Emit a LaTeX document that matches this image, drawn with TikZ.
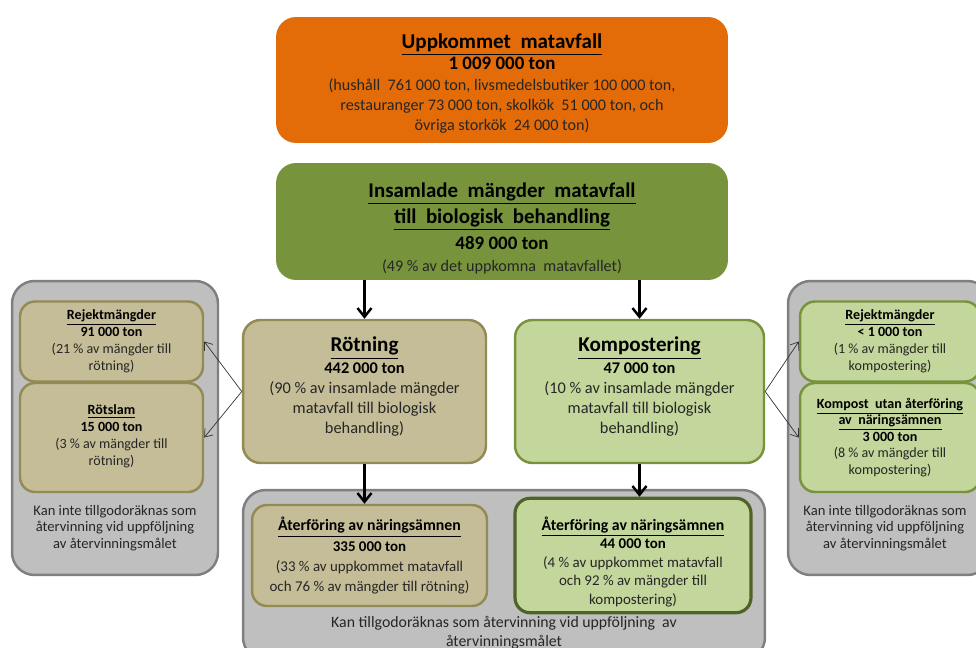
\documentclass[tikz,border=0pt]{standalone}
\usepackage{fontspec}
\setmainfont{Carlito}
\usepackage{tikz}
\usetikzlibrary{positioning,arrows.meta}
\definecolor{orangefill}{HTML}{E36C09}
\definecolor{greenfill}{HTML}{77933C}
\definecolor{tanfill}{HTML}{C4BD97}
\definecolor{tanline}{HTML}{948A54}
\definecolor{limefill}{HTML}{C3D69B}
\definecolor{limeline}{HTML}{77933C}
\definecolor{darkline}{HTML}{4F6228}
\definecolor{grayfill}{HTML}{BFBFBF}
\definecolor{grayline}{HTML}{7F7F7F}
\definecolor{txt}{HTML}{262626}
\newcommand{\hd}[1]{\textbf{\underline{#1}}}
\newcommand{\tn}[1]{\textbf{\color{black}#1}}

\begin{document}
\begin{tikzpicture}[x=0.02cm,y=-0.02cm,
  graybox/.style={draw=grayline,line width=1.4pt,fill=grayfill,rounded corners=0.45cm},
  tanbox/.style={draw=tanline,line width=1.4pt,fill=tanfill,rounded corners=0.35cm,align=center,text=txt},
  limebox/.style={draw=limeline,line width=1.4pt,fill=limefill,rounded corners=0.35cm,align=center,text=txt},
  small/.style={rounded corners=0.3cm,font=\fontsize{8}{9.7}\selectfont},
  bigarrow/.style={-{Straight Barb[length=5pt,width=8pt]},line width=1.4pt},
  thinarrow/.style={-{Straight Barb[length=4pt,width=6pt]},line width=0.4pt,draw=black!80},
  note/.style={align=center,text=txt,font=\fontsize{8.3}{9.4}\selectfont}]
\useasboundingbox (0,0) rectangle (976,648);

% gray areas
\node[graybox,minimum width=4.12cm,minimum height=5.88cm] (grayL) at (115,428) {};
\node[graybox,minimum width=4.04cm,minimum height=5.88cm] (grayR) at (889,428) {};
\node[graybox,minimum width=10.44cm,minimum height=3.4cm] (grayB) at (504,575) {};

% top boxes
\node[fill=orangefill,rounded corners=0.4cm,minimum width=9.04cm,minimum height=2.52cm,align=center,text=txt,
  font=\fontsize{9.2}{11.4}\selectfont] (upp) at (502,80)
  {\rule{0pt}{12pt}{\fontsize{12}{13}\selectfont\color{black}\hd{Uppkommet\ \ matavfall}}\\[1pt]
   {\fontsize{10.8}{12}\selectfont\tn{1 009 000 ton}}\\
   (hushåll\ \ 761 000 ton, livsmedelsbutiker 100 000 ton,\\
   restauranger 73 000 ton, skolkök\ \ 51 000 ton, och\\
   övriga storkök\ \ 24 000 ton)};
\node[fill=greenfill,rounded corners=0.4cm,minimum width=9.04cm,minimum height=2.34cm,align=center,text=txt,
  font=\fontsize{9.2}{11.4}\selectfont] (insam) at (502,221.5)
  {\rule{0pt}{16pt}{\fontsize{11.9}{14}\selectfont\color{black}\hd{Insamlade\ \ mängder\ \ matavfall}}\\[1.6pt]
   {\fontsize{11.9}{14}\selectfont\color{black}\hd{till\ \ biologisk\ \ behandling}}\\[2pt]
   {\fontsize{10.8}{12}\selectfont\tn{489 000 ton}}\\[1pt]
   (49 \% av det uppkomna\ \ matavfallet)};

% treatment
\node[tanbox,minimum width=4.86cm,minimum height=2.86cm,font=\fontsize{9.3}{11.4}\selectfont] (rot) at (364.5,391.5)
  {{\fontsize{12}{13}\selectfont\color{black}\hd{Rötning}}\\[1pt]
   \tn{442 000 ton}\\
   (90 \% av insamlade mängder\\
   matavfall till biologisk\\
   behandling)\\[-4.6pt]};
\node[limebox,minimum width=4.98cm,minimum height=2.86cm,font=\fontsize{9.3}{11.4}\selectfont] (komp) at (639.5,391.5)
  {{\fontsize{12}{13}\selectfont\color{black}\hd{Kompostering}}\\[1pt]
   \tn{47 000 ton}\\
   (10 \% av insamlade mängder\\
   matavfall till biologisk\\
   behandling)\\[-4.6pt]};

% left side
\node[tanbox,small,minimum width=3.66cm,minimum height=1.6cm] (rejL) at (111.5,341.5)
  {\color{black}\hd{Rejektmängder}\\ \tn{91 000 ton}\\ (21 \% av mängder till\\ rötning)};
\node[tanbox,small,minimum width=3.66cm,minimum height=2.18cm] (slamL) at (111.5,437.5)
  {\color{black}\hd{Rötslam}\\ \tn{15 000 ton}\\ (3 \% av mängder till\\ rötning)\\[-7pt]};
\node[note] (noteL) at (115,528) {Kan inte tillgodoräknas som\\återvinning vid uppföljning\\av återvinningsmålet};

% right side
\node[limebox,small,minimum width=3.6cm,minimum height=1.6cm] (rejR) at (890,341.5)
  {\color{black}\hd{Rejektmängder}\\ \tn{< 1 000 ton}\\ (1 \% av mängder till\\ kompostering)};
\node[limebox,small,font=\fontsize{8}{9.4}\selectfont,minimum width=3.6cm,minimum height=2.18cm] (kompR) at (890,437.5)
  {\color{black}\hd{Kompost\ \ utan återföring}\\ \color{black}\hd{av\ \ näringsämnen}\\ \tn{3 000 ton}\\
   \color{txt}(8 \% av mängder till\\ kompostering)};
\node[note] (noteR) at (885,528) {Kan inte tillgodoräknas som\\återvinning vid uppföljning\\av återvinningsmålet};

% bottom
\node[tanbox,rounded corners=0.3cm,minimum width=4.7cm,minimum height=2.02cm,font=\fontsize{8.5}{11.4}\selectfont] (atL) at (369.5,555.5)
  {{\fontsize{9}{11}\selectfont\color{black}\hd{Återföring av näringsämnen}}\\
   \tn{335 000 ton}\\
   (33 \% av uppkommet matavfall\\
   och 76 \% av mängder till rötning)};
\node[limebox,draw=darkline,line width=1.8pt,rounded corners=0.3cm,minimum width=4.72cm,minimum height=2.02cm,
  font=\fontsize{8.5}{10.5}\selectfont] (atR) at (633,555.5)
  {\rule{0pt}{15pt}{\fontsize{9}{11}\selectfont\color{black}\hd{Återföring av näringsämnen}}\\
   \tn{44 000 ton}\\
   (4 \% av uppkommet matavfall\\
   och 92 \% av mängder till\\
   kompostering)};
\node[note,font=\fontsize{9}{10.8}\selectfont] (noteB) at (504,633) {Kan tillgodoräknas som återvinning vid uppföljning\ \ av\\återvinningsmålet};

% arrows
\draw[bigarrow] (insam.south -| rot.north) -- (rot.north);
\draw[bigarrow] (insam.south -| komp.north) -- (komp.north);
\draw[bigarrow] (rot.south) -- (rot.south |- atL.north);
\draw[bigarrow] (komp.south) -- (komp.south |- atR.north);
\draw[thinarrow] (rot.west) -- (rejL.east);
\draw[thinarrow] (rot.west) -- (slamL.east);
\draw[thinarrow] (komp.east) -- (rejR.west);
\draw[thinarrow] (komp.east) -- (kompR.west);
\end{tikzpicture}
\end{document}
